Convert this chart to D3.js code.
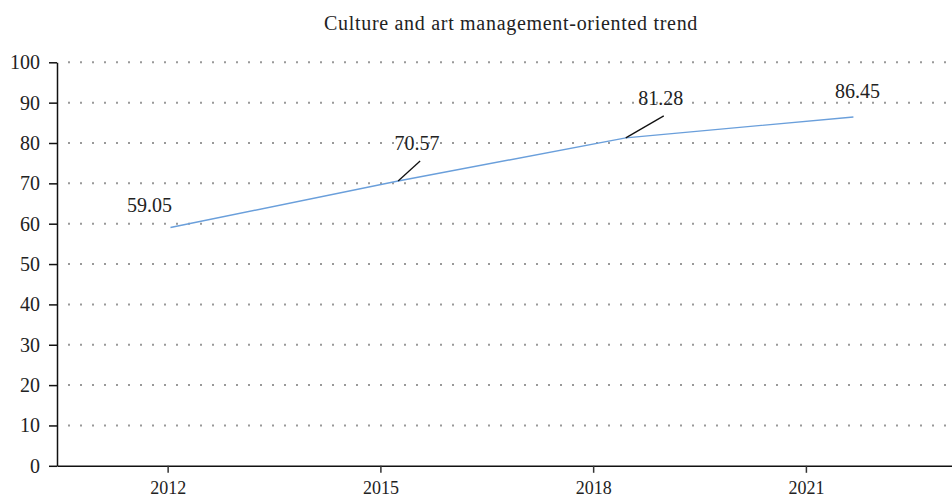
<!DOCTYPE html>
<html>
    <head>
        <title>Culture and art management-oriented trend</title>
        <script src="https://d3js.org/d3.v7.min.js"></script>
        <style>
            body {
                margin: 0;
                background: #ffffff;
            }
            svg {
                display: block;
            }
            text {
                font-family: 'Liberation Serif', 'DejaVu Serif', serif;
                fill: #222;
            }
            .grid line {
                stroke: #999;
                stroke-width: 2;
                stroke-dasharray: 2, 10;
            }
        </style>
    </head>
    <body>
        <script>
            const title = 'Culture and art management-oriented trend';
            const tickYears = [2012, 2015, 2018, 2021];
            // points sit a little right of the year ticks in the original
            const pointYears = [2012.04, 2015.25, 2018.46, 2021.67];
            const values = [59.05, 70.57, 81.28, 86.45];
            const yTicks = [0, 10, 20, 30, 40, 50, 60, 70, 80, 90, 100];
            // label offsets from each point, [dx, dy, hasLeader]
            const labelOffsets = [
                [-21, -16, false],
                [19, -31, true],
                [35, -33, true],
                [4, -19, false],
            ];

            const width = 952;
            const height = 498;
            const svg = d3.select('body').append('svg').attr('width', width).attr('height', height);

            const x = d3.scaleLinear().domain([2010.44, 2023.06]).range([57, 952]);
            const y = d3.scaleLinear().domain([0, 100]).range([465.8, 62.3]);

            svg.append('text')
                .attr('x', 511)
                .attr('y', 30)
                .attr('text-anchor', 'middle')
                .style('font-size', '20px')
                .style('letter-spacing', '0.7px')
                .text(title);

            // dotted gridlines
            svg.append('g')
                .attr('class', 'grid')
                .selectAll('line')
                .data(yTicks.filter((d) => d > 0))
                .join('line')
                .attr('x1', 68)
                .attr('x2', width)
                .attr('y1', (d) => y(d))
                .attr('y2', (d) => y(d));

            const yAxis = svg
                .append('g')
                .attr('transform', `translate(${x.range()[0]},0)`)
                .call(d3.axisLeft(y).tickValues(yTicks).tickSize(8).tickPadding(9).tickSizeOuter(0));
            yAxis.select('.domain').attr('stroke', '#111').attr('stroke-width', 1.5);
            yAxis.selectAll('.tick line').attr('stroke', '#111').attr('stroke-width', 1.5);
            yAxis.selectAll('.tick text').style('font-size', '20px').attr('fill', '#222');

            const xAxis = svg
                .append('g')
                .attr('transform', `translate(0,${y(0)})`)
                .call(d3.axisBottom(x).tickValues(tickYears).tickFormat(d3.format('d')).tickSize(7).tickPadding(8).tickSizeOuter(0));
            xAxis.select('.domain').attr('stroke', '#111').attr('stroke-width', 1.5);
            xAxis.selectAll('.tick line').attr('stroke', '#333').attr('stroke-width', 1.5);
            xAxis.selectAll('.tick text').style('font-size', '18px').attr('fill', '#222');

            const points = values.map((v, i) => ({ x: pointYears[i], y: v, off: labelOffsets[i] }));

            svg.append('path')
                .datum(points)
                .attr('fill', 'none')
                .attr('stroke', '#6a9fdb')
                .attr('stroke-width', 1.4)
                .attr('d', d3.line().x((d) => x(d.x)).y((d) => y(d.y)));

            const labels = svg.append('g').selectAll('g').data(points).join('g');
            labels
                .filter((d) => d.off[2])
                .append('line')
                .attr('x1', (d) => x(d.x))
                .attr('y1', (d) => y(d.y))
                .attr('x2', (d) => x(d.x) + d.off[0] + 3)
                .attr('y2', (d) => y(d.y) + d.off[1] + 11)
                .attr('stroke', '#111')
                .attr('stroke-width', 1.3);
            labels
                .append('text')
                .attr('x', (d) => x(d.x) + d.off[0])
                .attr('y', (d) => y(d.y) + d.off[1])
                .attr('text-anchor', 'middle')
                .style('font-size', '20px')
                .text((d) => d.y.toFixed(2));
        </script>
    </body>
</html>
